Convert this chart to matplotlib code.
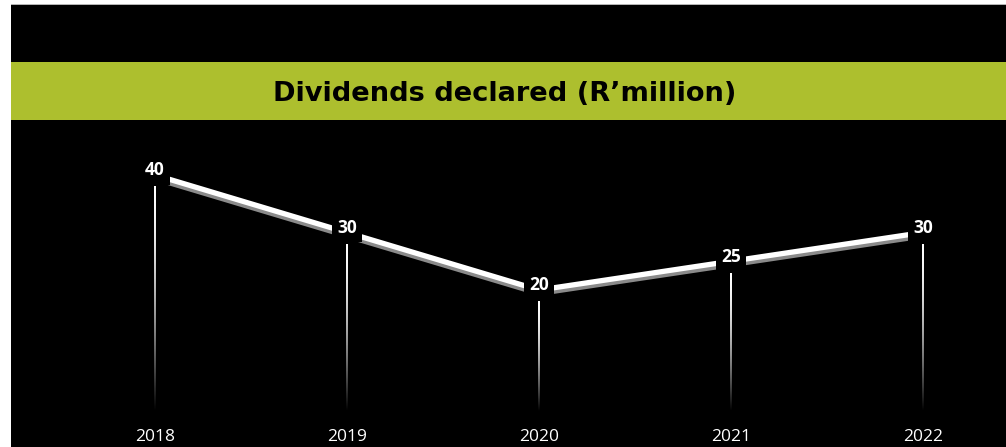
import numpy as np
import matplotlib.pyplot as plt
from matplotlib.patches import Rectangle

years = ["2018", "2019", "2020", "2021", "2022"]
dividends = [40, 30, 20, 25, 30]

W, H = 1006, 447
fig = plt.figure(figsize=(W / 100, H / 100), dpi=100, facecolor="white")

# black panel and green title band, in pixel-ish figure coords
fig.patches.append(Rectangle((11 / W, 0), 1, (H - 5) / H, transform=fig.transFigure,
                             facecolor="black", edgecolor="none", zorder=0))
fig.patches.append(Rectangle((11 / W, (H - 5) / H), 1, 1 / H, transform=fig.transFigure,
                             facecolor="#b4b4b4", edgecolor="none", zorder=0))
fig.patches.append(Rectangle((11 / W, (H - 120) / H), 1, 58 / H, transform=fig.transFigure,
                             facecolor="#adbf2e", edgecolor="none", zorder=1))
fig.text(505 / W, (H - 94) / H, "Dividends declared (R\u2019million)", ha="center", va="center",
         fontsize=19.6, fontweight="bold", color="black", family="DejaVu Sans")

ax = fig.add_axes([0, 0, 1, 1])
ax.set_zorder(5)
ax.set_facecolor("none")
x = np.arange(len(years))
px = 192.0

# shadow under the line, then the line itself
ax.plot(x, np.array(dividends) - 0.6, color="#8a8a8a", lw=3.8, solid_capstyle="butt", zorder=2)
ax.plot(x, dividends, color="white", lw=3.8, solid_capstyle="butt", zorder=3)

# fading drop lines from each label down to the baseline
t = np.linspace(0.0, 1.0, 200)
grad = (1 - t ** 1.6).reshape(-1, 1)
half = 1.0 / px
for xi, v in zip(x, dividends):
    ax.imshow(grad, cmap="gray", vmin=0, vmax=1.0, aspect="auto", interpolation="bilinear",
              extent=(xi - half, xi + half, -1, v - 2.0), zorder=2)
    ax.text(xi, v + 0.8, str(v), ha="center", va="center", color="white", fontsize=12.5,
            fontweight="bold", family="Open Sans", zorder=5,
            bbox=dict(boxstyle="square,pad=0.3", facecolor="black", edgecolor="none"))
    ax.text(xi, -5.5, years[xi], ha="center", va="center", color="white", fontsize=12.5,
            family="Open Sans", zorder=5)

ax.set_xlim(-155 / px, (W - 155) / px)
ax.set_ylim(-42 / 5.75, 405 / 5.75)
ax.axis("off")

fig.savefig("out.png", dpi=100, facecolor="white")
